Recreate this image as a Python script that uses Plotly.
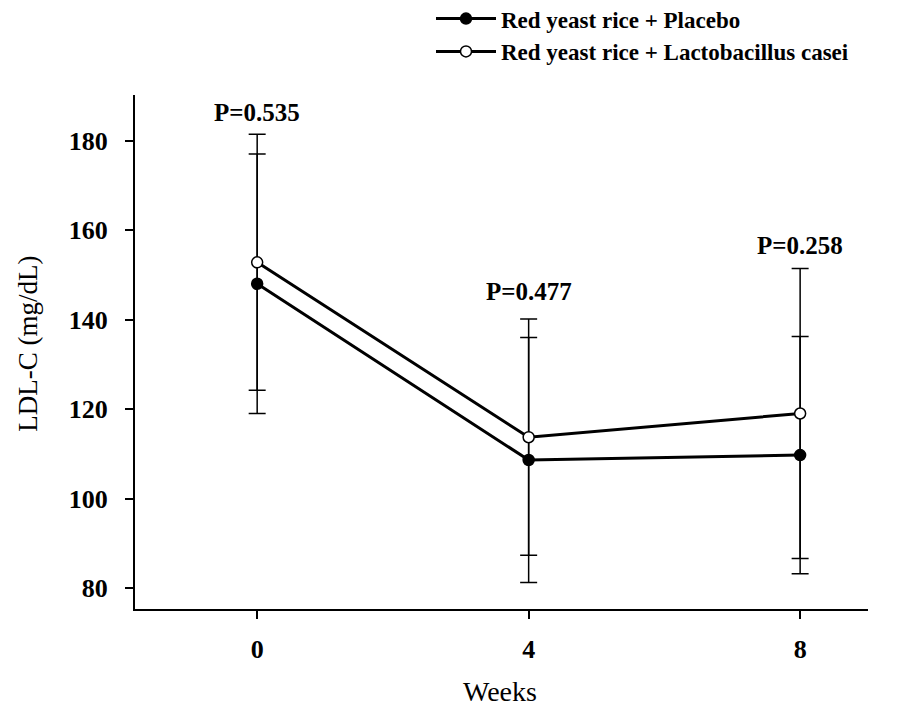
import plotly.graph_objects as go

# LDL-C (mg/dL) over the study period, mean ± SD
weeks = [0, 4, 8]
placebo_mean = [148.0, 108.6, 109.7]
placebo_sd = [29.0, 27.4, 26.5]
casei_mean = [152.8, 113.7, 119.0]
casei_sd = [28.6, 26.4, 32.4]

p_values = ["P=0.535", "P=0.477", "P=0.258"]
p_label_y = [186.2, 146.2, 156.6]

series_names = ["Red yeast rice + Placebo", "Red yeast rice + Lactobacillus casei"]

FONT = "Liberation Serif"

fig = go.Figure()

fig.add_trace(go.Scatter(
    x=weeks, y=placebo_mean, name=series_names[0],
    mode="lines+markers",
    line=dict(color="black", width=3),
    marker=dict(symbol="circle", size=11, color="black",
                line=dict(color="black", width=1.5)),
    error_y=dict(type="data", array=placebo_sd, symmetric=True,
                 color="black", thickness=1.5, width=8.5),
))

fig.add_trace(go.Scatter(
    x=weeks, y=casei_mean, name=series_names[1],
    mode="lines+markers",
    line=dict(color="black", width=3),
    marker=dict(symbol="circle", size=11, color="white",
                line=dict(color="black", width=1.5)),
    error_y=dict(type="data", array=casei_sd, symmetric=True,
                 color="black", thickness=1.5, width=8.5),
))

for wk, txt, yv in zip(weeks, p_values, p_label_y):
    fig.add_annotation(x=wk, y=yv, text=f"<b>{txt}</b>", showarrow=False,
                       xanchor="center", yanchor="middle",
                       font=dict(family=FONT, size=25, color="black"))

fig.add_annotation(xref="paper", yref="paper", x=-0.146, y=0.516,
                   text="LDL-C (mg/dL)", textangle=-90, showarrow=False,
                   xanchor="center", yanchor="middle",
                   font=dict(family=FONT, size=27, color="black"))
fig.add_annotation(xref="paper", yref="paper", x=0.498, y=-0.160,
                   text="Weeks", showarrow=False,
                   xanchor="center", yanchor="middle",
                   font=dict(family=FONT, size=28, color="black"))

axis_common = dict(
    showline=True, linecolor="black", linewidth=2,
    ticks="outside", ticklen=8, tickwidth=2, tickcolor="black",
    showgrid=False, zeroline=False,
    tickfont=dict(family=FONT, size=26, color="black", weight="bold"),
)

fig.update_xaxes(range=[-1.8, 9.0], tickvals=weeks,
                 ticktext=[str(w) for w in weeks],
                 ticklabelstandoff=8, **axis_common)
fig.update_yaxes(range=[75.3, 190.2], tickvals=[80, 100, 120, 140, 160, 180],
                 ticklabelstandoff=12, **axis_common)

fig.update_layout(
    width=918, height=713,
    margin=dict(l=135, r=50, t=95, b=103.5, autoexpand=False),
    paper_bgcolor="white", plot_bgcolor="white",
    showlegend=True,
    legend=dict(
        x=(431 - 135) / 733, y=1 + 98 / 514.5, xanchor="left", yanchor="top",
        font=dict(family=FONT, size=23, color="black", weight="bold"),
        itemwidth=60, tracegroupgap=0,
        bgcolor="rgba(0,0,0,0)",
    ),
)

fig.write_html("out.html")
